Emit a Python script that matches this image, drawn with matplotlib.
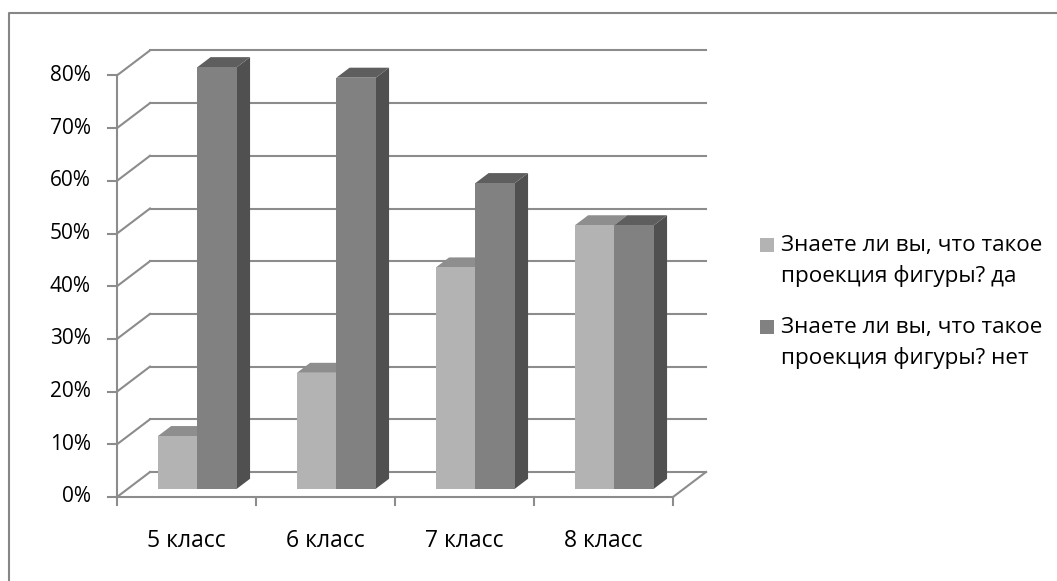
import matplotlib.pyplot as plt
from matplotlib.patches import Polygon, Rectangle
from matplotlib.lines import Line2D

plt.rcParams['font.family'] = ['Open Sans', 'DejaVu Sans']

# survey data
classes = ['5 класс', '6 класс', '7 класс', '8 класс']
yes_pct = [10, 22, 42, 50]
no_pct = [80, 78, 58, 50]
series_names = ['Знаете ли вы, что такое\nпроекция фигуры? да',
                'Знаете ли вы, что такое\nпроекция фигуры? нет']
y_ticks = [0, 10, 20, 30, 40, 50, 60, 70, 80]

# face colours: front, top, side
light = ('#b3b3b3', '#8e8e8e', '#6e6e6e')
dark = ('#818181', '#5e5e5e', '#505050')
grid_col = '#8c8c8c'

W, H = 1057, 581
fig = plt.figure(figsize=(W / 100, H / 100), dpi=100)


def fx(px):
    return px / W


def fy(py):
    return 1 - py / H


# plot frame in pixels, origin of the floor and scale
x0, y0 = 117, 497
px_cat = 139.0
px_pct = 5.27
ax_l, ax_r, ax_t, ax_b = 60, 730, 30, 560
ax = fig.add_axes([fx(ax_l), fy(ax_b), (ax_r - ax_l) / W, (ax_b - ax_t) / H])
ax.set_xlim((ax_l - x0) / px_cat, (ax_r - x0) / px_cat)
ax.set_ylim(-(ax_b - y0) / px_pct, (y0 - ax_t) / px_pct)
ax.axis('off')

# depth offset of the back wall (in data units)
DX = 33 / px_cat
DY = 25 / px_pct
n = len(classes)


def proj(x, y, d):
    return (x + d * DX, y + d * DY)


# back wall gridlines and left wall diagonals
for v in y_ticks:
    ax.plot([DX, n + DX], [v + DY, v + DY], color=grid_col, lw=1.5, zorder=1)
    ax.plot([0, DX], [v, v + DY], color=grid_col, lw=1.5, zorder=1)
    ax.plot([-9 / px_cat, 0], [v, v], color=grid_col, lw=1.5, zorder=1)
    ax.text(-26 / px_cat, v, f'{v}%', ha='right', va='center', fontsize=15)

# vertical axis, floor front edge and right edge
ax.plot([0, 0], [0, y_ticks[-1]], color=grid_col, lw=1.5, zorder=1)
ax.plot([0, n], [0, 0], color=grid_col, lw=1.5, zorder=6)
ax.plot([n, n + DX], [0, DY], color=grid_col, lw=1.5, zorder=1)
for i in range(n + 1):
    ax.plot([i, i], [0, -8 / px_pct], color=grid_col, lw=1.5, zorder=1)

# bars
f0, f1 = 0.33, 0.73
bw = 0.284
z = 3
for i in range(n):
    for k, (vals, cols) in enumerate([(yes_pct, light), (no_pct, dark)]):
        v = vals[i]
        xl = i + 0.5 - bw + k * bw
        xr = xl + bw
        front = [proj(xl, 0, f0), proj(xr, 0, f0), proj(xr, v, f0), proj(xl, v, f0)]
        top = [proj(xl, v, f0), proj(xr, v, f0), proj(xr, v, f1), proj(xl, v, f1)]
        side = [proj(xr, 0, f0), proj(xr, 0, f1), proj(xr, v, f1), proj(xr, v, f0)]
        ax.add_patch(Polygon(side, closed=True, fc=cols[2], ec='none', zorder=z))
        ax.add_patch(Polygon(top, closed=True, fc=cols[1], ec='none', zorder=z))
        ax.add_patch(Polygon(front, closed=True, fc=cols[0], ec='none', zorder=z + 1))
        z += 2
    ax.text(i + 0.5, -(541 - y0) / px_pct, classes[i], ha='center', va='center', fontsize=16.5)

# legend
for k, (name, cols, cy) in enumerate(zip(series_names, [light, dark], [245, 327])):
    fig.patches.append(Rectangle((fx(760), fy(cy + 7)), 14 / W, 14 / H,
                                 transform=fig.transFigure, fc=cols[0], ec='none'))
    lines = name.split('\n')
    fig.text(fx(781), fy(cy + 1), lines[0], ha='left', va='center', fontsize=16.2)
    fig.text(fx(781), fy(cy + 31), lines[1], ha='left', va='center', fontsize=16.2)

# outer border
fig.add_artist(Line2D([fx(9), fx(9), 1.01], [-0.01, fy(13), fy(13)],
                      transform=fig.transFigure, color='#868686', lw=1.5))

fig.savefig('out.png', dpi=100)
